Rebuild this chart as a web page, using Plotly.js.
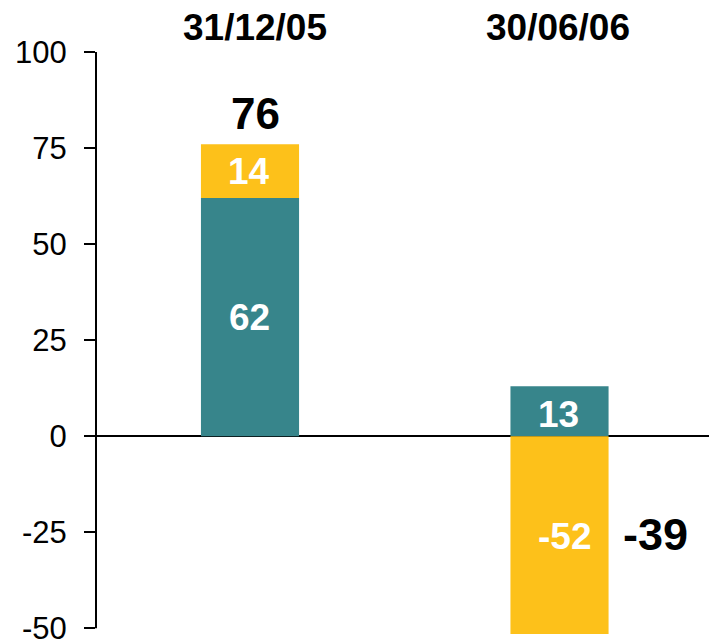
<!DOCTYPE html>
<html>
<head>
<meta charset="utf-8">
<script src="https://cdn.plot.ly/plotly-3.0.1.min.js"></script>
<style>html,body{margin:0;padding:0;background:#fff;}#chart{width:709px;height:640px;}</style>
</head>
<body>
<div id="chart"></div>
<script>
const categories = ['31/12/05', '30/06/06'];
const baseValues = [62, 13];
const changeValues = [14, -52];
const yTicks = [-50, -25, 0, 25, 50, 75, 100];

const TEAL = '#37858B';
const YELLOW = '#FDC11A';
const FONT = 'Liberation Sans, Arial, sans-serif';
const BAR_WIDTH = 0.317;

const totals = categories.map((c, i) => baseValues[i] + changeValues[i]);

const traceBase = {
  type: 'bar', x: categories, y: baseValues,
  marker: {color: TEAL, line: {width: 0}},
  hoverinfo: 'none', width: BAR_WIDTH
};
const traceChange = {
  type: 'bar', x: categories, y: changeValues,
  marker: {color: YELLOW, line: {width: 0}},
  hoverinfo: 'none', width: BAR_WIDTH
};

const annotations = [];
const catShift = [5, -2];
categories.forEach((c, i) => {
  annotations.push({
    x: c, xref: 'x', y: 1, yref: 'paper', yanchor: 'middle', yshift: 25, xshift: catShift[i],
    text: '<b>' + c + '</b>', showarrow: false,
    font: {family: FONT, size: 37, color: '#000000'}
  });
  // segment labels (relative stacking: positives up, negatives down)
  let pos = 0, neg = 0;
  [baseValues[i], changeValues[i]].forEach((v) => {
    let mid;
    if (v >= 0) { mid = pos + v / 2; pos += v; } else { mid = neg + v / 2; neg += v; }
    annotations.push({
      x: c, xref: 'x', y: mid, yref: 'y', yanchor: 'middle', xanchor: 'center',
      xshift: v < 0 ? 5 : -1, yshift: (v >= 0 && v < 20 && pos === v) ? -3 : 0,
      text: '<b>' + v + '</b>', showarrow: false,
      font: {family: FONT, size: 37, color: '#ffffff'}
    });
  });
  const t = totals[i];
  if (t >= 0) {
    annotations.push({
      x: c, xref: 'x', y: t, yref: 'y', yanchor: 'bottom', yshift: 4, xshift: 5,
      text: '<b>' + t + '</b>', showarrow: false,
      font: {family: FONT, size: 44, color: '#000000'}
    });
  } else {
    annotations.push({
      x: i + BAR_WIDTH / 2, xref: 'x', y: neg / 2, yref: 'y', xanchor: 'left', yanchor: 'middle', xshift: 12, yshift: 2,
      text: '<b>' + t + '</b>', showarrow: false,
      font: {family: FONT, size: 45, color: '#000000'}
    });
  }
});

const layout = {
  width: 709, height: 640,
  margin: {l: 96, r: 0, t: 52, b: 6, pad: 0},
  paper_bgcolor: '#ffffff', plot_bgcolor: '#ffffff',
  barmode: 'relative', showlegend: false,
  font: {family: FONT, color: '#000000'},
  xaxis: {
    type: 'category', range: [-0.4976, 1.483],
    showticklabels: false, showgrid: false, zeroline: false, showline: false, ticks: '',
    fixedrange: true
  },
  yaxis: {
    range: [-51.5, 100], tickvals: yTicks, ticktext: yTicks.map(String),
    ticks: 'outside', ticklen: 11, tickwidth: 2, tickcolor: '#000000',
    ticklabelstandoff: 11, ticklabeloverflow: 'allow',
    tickfont: {family: FONT, size: 31, color: '#000000'},
    showgrid: false, showline: false,
    zeroline: true, zerolinecolor: '#000000', zerolinewidth: 2,
    fixedrange: true
  },
  shapes: [{
    type: 'line', xref: 'paper', x0: 0, x1: 0, yref: 'y', y0: -50, y1: 100,
    line: {color: '#000000', width: 2}
  }],
  annotations: annotations
};

Plotly.newPlot('chart', [traceBase, traceChange], layout, {displayModeBar: false, staticPlot: true});
</script>
</body>
</html>
